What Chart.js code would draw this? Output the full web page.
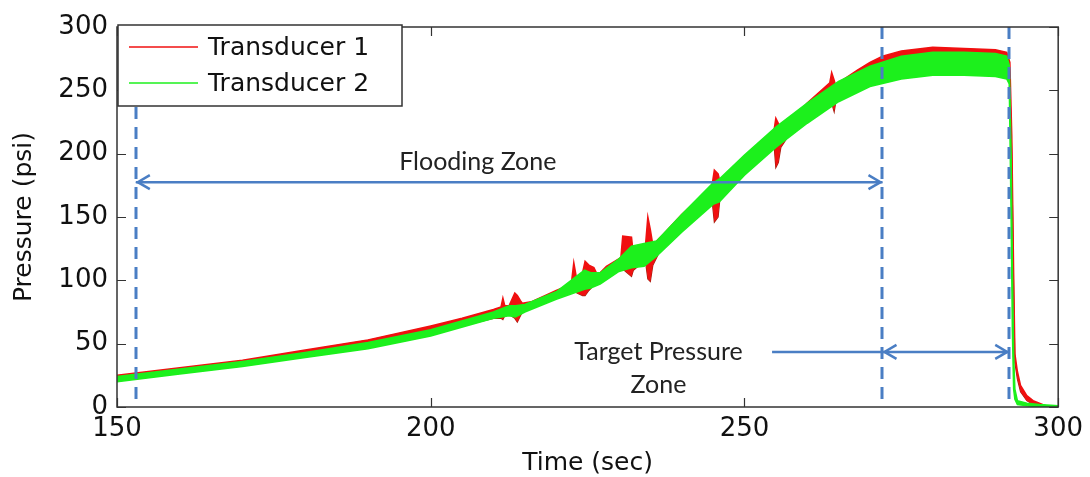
<!DOCTYPE html>
<html>
<head>
<meta charset="utf-8">
<script src="https://cdn.jsdelivr.net/npm/chart.js@4/dist/chart.umd.min.js"></script>
<style>
  body { margin: 0; background: #fff; }
</style>
</head>
<body>
<canvas id="myChart" width="1090" height="477"></canvas>
<script>
const seriesNames = ['Transducer 1', 'Transducer 2'];
const xTicks = [150, 200, 250, 300];
const yTicks = [0, 50, 100, 150, 200, 250, 300];

// Transducer 1 (red) – upper / lower edge of the noisy trace
const redTime = [150, 160, 170, 180, 190, 200, 205, 210,
  211.2, 211.5, 211.8, 212.5, 213.4, 213.8, 214.3, 214.6, 216, 220,
  222.4, 222.8, 223.3, 224.2, 224.6, 225.2, 226, 226.6, 228,
  230.3, 230.6, 232, 232.3, 234.2, 234.6, 235, 235.4, 237, 240,
  244.8, 245.2, 245.8, 246.2, 248, 250, 254.7, 255, 255.4, 255.8, 257, 260,
  263.6, 263.9, 264.3, 264.6, 265, 268, 270, 272, 275, 280, 285, 290, 291.8,
  292.3, 292.6, 292.9, 293.1, 293.5, 294, 295, 296, 297, 298, 300];
const redHigh = [25, 31, 37, 45, 53, 64, 70, 77,
  79, 86, 80, 80, 90, 88, 84, 82, 83, 92,
  97, 114, 100, 106, 115, 112, 110, 104, 111,
  118, 135, 134, 120, 126, 150, 140, 128, 136, 152,
  174, 187, 184, 176, 185, 198, 218, 228, 224, 220, 224, 240,
  256, 264, 258, 252, 256, 266, 272, 277, 281, 284, 283, 282, 280,
  272, 215, 105, 42, 28, 17, 9, 5, 3, 1, 1];
const redLow = [21, 27, 33, 40, 47, 57, 64, 70,
  70, 69, 72, 73, 70, 67, 72, 75, 78, 86,
  91, 92, 90, 88, 88, 92, 96, 99, 104,
  110, 109, 103, 108, 116, 101, 99, 112, 128, 143,
  165, 146, 150, 170, 176, 187, 208, 189, 193, 205, 214, 229,
  240, 240, 233, 242, 245, 256, 260, 263, 265, 268, 268, 267, 264,
  255, 200, 90, 35, 22, 12, 5, 2, 1, 0, 0];

// Transducer 2 (green) – upper / lower edge of the band
const greenTime = [150, 160, 170, 180, 190, 200, 210, 212.5, 213.5, 215, 220, 224.5, 225.5, 227, 230, 232, 234, 236, 240,
  245, 246, 250, 255, 260, 265, 270, 275, 280, 285, 290, 291.8, 292.2, 292.5, 292.7, 292.9, 293.1, 293.5, 295, 297, 300];
const greenHigh = [24, 30, 36, 43, 51, 61, 75, 80, 80, 81, 91, 108, 106, 106, 117, 127, 129, 131, 152,
  177, 180, 199, 221, 240, 257, 269, 277, 280, 280, 279, 277, 270, 200, 110, 40, 14, 5, 3, 2, 1];
const greenLow = [20, 26, 32, 39, 46, 56, 70, 72, 71, 75, 85, 93, 94, 97, 107, 110, 111, 119, 138,
  160, 162, 183, 205, 224, 241, 253, 259, 262, 262, 261, 259, 255, 150, 60, 14, 6, 2, 1, 0, 0];

// annotations
const zoneLines = [153, 272, 292.2];
const floodArrow = [153, 272, 177.5];
const targetArrow = [254.4, 272, 292.2, 43.5];
const floodLabel = [207.5, 193.5];
const targetLabel = [236.3, 43.4, 17.4];

const red = '#f01010';
const green = '#1cf01c';
const blue = '#4a7ec4';
const textFont = '"DejaVu Sans", sans-serif';

const pts = (xs, ys) => xs.map((t, i) => ({x: t, y: ys[i]}));

const overlay = {
  id: 'overlay',
  afterDatasetsDraw(chart) {
    const {ctx, chartArea: a, scales: {x, y}} = chart;
    ctx.save();

    // dashed zone borders
    ctx.strokeStyle = blue;
    ctx.lineWidth = 3;
    ctx.setLineDash([12, 8]);
    zoneLines.forEach(t => {
      const px = Math.round(x.getPixelForValue(t));
      ctx.beginPath();
      ctx.moveTo(px, a.top);
      ctx.lineTo(px, a.bottom);
      ctx.stroke();
    });
    ctx.setLineDash([]);

    // arrows
    const head = (px, py, dir) => {
      ctx.beginPath();
      ctx.moveTo(px - dir * 12, py - 7);
      ctx.lineTo(px, py);
      ctx.lineTo(px - dir * 12, py + 7);
      ctx.stroke();
    };
    ctx.lineWidth = 2.5;
    let py = y.getPixelForValue(floodArrow[2]);
    let x1 = x.getPixelForValue(floodArrow[0]);
    let x2 = x.getPixelForValue(floodArrow[1]);
    ctx.beginPath(); ctx.moveTo(x1, py); ctx.lineTo(x2, py); ctx.stroke();
    head(x1 + 2, py, -1);
    head(x2 - 2, py, 1);

    py = y.getPixelForValue(targetArrow[3]);
    const x0 = x.getPixelForValue(targetArrow[0]);
    x1 = x.getPixelForValue(targetArrow[1]);
    x2 = x.getPixelForValue(targetArrow[2]);
    ctx.beginPath(); ctx.moveTo(x0, py); ctx.lineTo(x2, py); ctx.stroke();
    head(x1 + 2, py, -1);
    head(x2 - 2, py, 1);

    // zone labels
    ctx.fillStyle = '#222';
    ctx.font = '25px Lato, sans-serif';
    ctx.textAlign = 'center';
    ctx.textBaseline = 'middle';
    ctx.fillText('Flooding Zone', x.getPixelForValue(floodLabel[0]), y.getPixelForValue(floodLabel[1]));
    ctx.fillText('Target Pressure', x.getPixelForValue(targetLabel[0]), y.getPixelForValue(targetLabel[1]));
    ctx.fillText('Zone', x.getPixelForValue(targetLabel[0]), y.getPixelForValue(targetLabel[2]));

    // axes box with inward ticks
    ctx.strokeStyle = '#333';
    ctx.lineWidth = 1.5;
    ctx.strokeRect(a.left, a.top, a.right - a.left, a.bottom - a.top);
    ctx.lineWidth = 1.2;
    xTicks.forEach(t => {
      const px = Math.round(x.getPixelForValue(t)) + 0.5;
      ctx.beginPath();
      ctx.moveTo(px, a.bottom); ctx.lineTo(px, a.bottom - 9);
      ctx.moveTo(px, a.top); ctx.lineTo(px, a.top + 9);
      ctx.stroke();
    });
    yTicks.forEach(v => {
      const pyy = Math.round(y.getPixelForValue(v)) + 0.5;
      ctx.beginPath();
      ctx.moveTo(a.left, pyy); ctx.lineTo(a.left + 9, pyy);
      ctx.moveTo(a.right, pyy); ctx.lineTo(a.right - 9, pyy);
      ctx.stroke();
    });

    // legend
    const lx = a.left + 1, ly = a.top - 2, lw = 284, lh = 81;
    ctx.fillStyle = '#fff';
    ctx.fillRect(lx, ly, lw, lh);
    ctx.strokeStyle = '#333';
    ctx.lineWidth = 1.5;
    ctx.strokeRect(lx, ly, lw, lh);
    ctx.font = '25px ' + textFont;
    ctx.textAlign = 'left';
    ctx.textBaseline = 'middle';
    [red, green].forEach((c, i) => {
      const ry = ly + 22 + i * 36;
      ctx.strokeStyle = c;
      ctx.lineWidth = 1.5;
      ctx.beginPath(); ctx.moveTo(lx + 11, ry); ctx.lineTo(lx + 80, ry); ctx.stroke();
      ctx.fillStyle = '#111';
      ctx.fillText(seriesNames[i], lx + 90, ry + 1);
    });

    // axis titles
    ctx.fillStyle = '#111';
    ctx.textAlign = 'center';
    ctx.fillText('Time (sec)', (a.left + a.right) / 2, 463);
    ctx.translate(24, (a.top + a.bottom) / 2);
    ctx.rotate(-Math.PI / 2);
    ctx.fillText('Pressure (psi)', 0, 0);
    ctx.restore();
  }
};

const data = {
  datasets: [{
    label: seriesNames[1],
    data: pts(greenTime, greenHigh),
    borderColor: green,
    backgroundColor: green,
    borderWidth: 1.5,
    pointRadius: 0,
    fill: '+1'
  },
  {
    label: seriesNames[1] + ' low',
    data: pts(greenTime, greenLow),
    borderColor: green,
    borderWidth: 1.5,
    pointRadius: 0,
    fill: false
  },
  {
    label: seriesNames[0],
    data: pts(redTime, redHigh),
    borderColor: red,
    backgroundColor: red,
    borderWidth: 1.5,
    pointRadius: 0,
    fill: '+1'
  },
  {
    label: seriesNames[0] + ' low',
    data: pts(redTime, redLow),
    borderColor: '#a02010',
    borderWidth: 1.2,
    pointRadius: 0,
    fill: false
  }]
};

const config = {
  type: 'line',
  data: data,
  options: {
    responsive: false,
    animation: false,
    devicePixelRatio: 1,
    layout: { padding: { top: 27, right: 28, left: 0, bottom: 0 } },
    plugins: {
      legend: { display: false },
      tooltip: { enabled: false }
    },
    scales: {
      x: {
        type: 'linear',
        min: 150,
        max: 300,
        afterFit: s => { s.height = 70; },
        afterBuildTicks: s => { s.ticks = xTicks.map(v => ({value: v})); },
        grid: { display: false, drawTicks: false },
        border: { display: false },
        ticks: { padding: 7, color: '#111', font: { size: 26, family: textFont }, maxRotation: 0 }
      },
      y: {
        min: 0,
        max: 300,
        afterFit: s => { s.width = 117; },
        afterBuildTicks: s => { s.ticks = yTicks.map(v => ({value: v})); },
        grid: { display: false, drawTicks: false },
        border: { display: false },
        ticks: { padding: 9, color: '#111', font: { size: 26, family: textFont } }
      }
    }
  },
  plugins: [overlay]
};

var thisChart = new Chart(document.getElementById('myChart'), config);
</script>
</body>
</html>
